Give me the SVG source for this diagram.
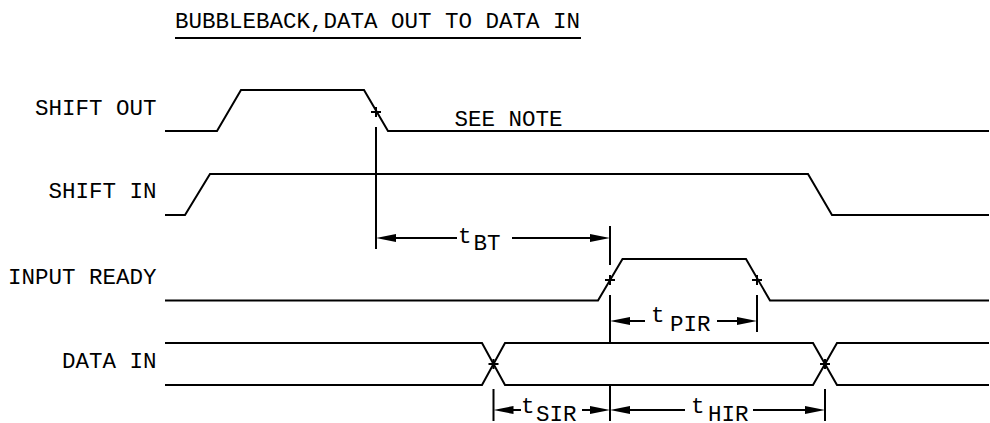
<svg xmlns="http://www.w3.org/2000/svg" width="990" height="423" viewBox="0 0 990 423">
<defs>
<style>
.t{font-family:"Liberation Mono","DejaVu Sans Mono",monospace;font-size:22.5px;fill:#000}
.e{text-anchor:end}
.w{fill:none;stroke:#000;stroke-width:2;stroke-linejoin:miter}
.d{fill:none;stroke:#000;stroke-width:2}
.h{fill:#000;stroke:none}
</style>
</defs>
<rect width="990" height="423" fill="#fff"/>
<g id="title">
<text class="t" x="175" y="28">BUBBLEBACK,DATA OUT TO DATA IN</text>
<line class="d" x1="175" y1="38" x2="581" y2="38"/>
</g>
<g id="shift-out">
<text class="t e" x="156.5" y="115">SHIFT OUT</text>
<path class="w" d="M165,131 H217 L241,90 H364 L388,131 H989"/>
<text class="t" x="454.5" y="126">SEE NOTE</text>
</g>
<g id="shift-in">
<text class="t e" x="156.5" y="198">SHIFT IN</text>
<path class="w" d="M165,215 H185 L210,174 H808 L832,215 H989"/>
</g>
<g id="input-ready">
<text class="t e" x="156.5" y="284">INPUT READY</text>
<path class="w" d="M165,300.5 H598 L622.5,259 H746 L770,300.5 H989"/>
</g>
<g id="data-in">
<text class="t e" x="156.5" y="368">DATA IN</text>
<path class="w" d="M165,343 H482 L505,385 H813 L837,343 H989"/>
<path class="w" d="M165,385 H482 L505,343 H813 L837,385 H989"/>
</g>
<g id="connectors">
<path class="d" d="M371,112 H381 M376,107 V117 M605,280 H615 M610,275 V285 M752,280 H762 M757,275 V285 M488.5,364 H498.5 M493.5,359 V369 M820,364 H830 M825,359 V369"/>
<path class="d" d="M376,127 V249 M610,226 V265 M610,295 V343 M610,386 V421 M757,295 V332 M493.5,389 V421 M825,389 V421"/>
<path class="d" d="M396,238 H457 M512,238 H590"/>
<polygon class="h" points="376,238 396,234 396,242"/>
<polygon class="h" points="610,238 590,234 590,242"/>
<text class="t" x="458" y="243">t</text>
<text class="t" x="473.5" y="250">BT</text>
<path class="d" d="M630,321 H645 M717,321 H737"/>
<polygon class="h" points="610,321 630,317 630,325"/>
<polygon class="h" points="757,321 737,317 737,325"/>
<text class="t" x="651" y="322">t</text>
<text class="t" x="670" y="331">PIR</text>
<path class="d" d="M513,410 H521 M582,410 H590 M630,410 H685 M753,410 H805"/>
<polygon class="h" points="493.5,410 513.5,406 513.5,414"/>
<polygon class="h" points="610,410 590,406 590,414"/>
<polygon class="h" points="610,410 630,406 630,414"/>
<polygon class="h" points="825,410 805,406 805,414"/>
<text class="t" x="521" y="413">t</text>
<text class="t" x="536" y="421">SIR</text>
<text class="t" x="691" y="413">t</text>
<text class="t" x="708" y="421">HIR</text>
</g>
</svg>
